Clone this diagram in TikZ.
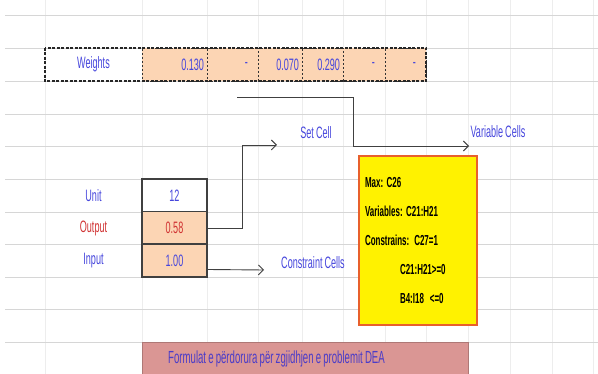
\documentclass[tikz,border=0pt]{standalone}
\usepackage{fontspec}
\setmainfont{Liberation Sans}[FakeStretch=0.55, WordSpace=0.8]
\usepackage{tikz}
\usetikzlibrary{arrows.meta,positioning}
\definecolor{peach}{HTML}{FCD5B4}
\definecolor{xlblue}{HTML}{4646DC}
\definecolor{xlred}{HTML}{D03232}
\definecolor{xlgrid}{HTML}{D6D6D6}
\definecolor{xlvgrid}{HTML}{EDEDED}
\definecolor{barrose}{HTML}{DA9694}
\definecolor{boxedge}{HTML}{E8602C}
\definecolor{linegray}{HTML}{404040}
\definecolor{bartext}{HTML}{4B3CC8}
\frenchspacing

\begin{document}
\begin{tikzpicture}[x=1pt, y=-1pt,
  >={Straight Barb[length=5pt,width=10pt]}, font=\fontsize{16.5pt}{18pt}\selectfont,
  lbl/.style={minimum width=97pt, minimum height=33pt, inner sep=0pt, text=xlblue},
  wcell/.style={draw=black!80, dash pattern=on 2pt off 2pt, fill=peach, minimum height=33pt, inner xsep=3pt, inner ysep=0pt, text width=#1, align=right, text=xlblue},
  vcell/.style={draw=linegray, line width=1.4pt, minimum width=65pt, minimum height=32.7pt, inner sep=0pt, fill=#1},
  conn/.style={draw=linegray, line width=0.9pt},
  tag/.style={text=xlblue, inner sep=1pt}]
\useasboundingbox (0,0) rectangle (598,374);
% sheet grid
\foreach \gx in {45,142,207,258,302,343,385,426,468,510,552,593}
  \draw[xlvgrid, line width=0.8pt] (\gx,0) -- (\gx,374);
\foreach \gy in {15,48,81,114,146,179,212,244,277,309,342}
  \draw[xlgrid, line width=0.8pt] (5,\gy) -- (598,\gy);
% weights row
\node[lbl] (wlab) at (93.5,64.5) {Weights};
\node[wcell=59pt] (w1) at (174.5,64.5) {0.130};
\node[wcell=45pt] (w2) at (232.5,64.5) {-\hspace*{7pt}};
\node[wcell=38pt] (w3) at (280,64.5) {0.070};
\node[wcell=35pt] (w4) at (322.5,64.5) {0.290};
\node[wcell=36pt] (w5) at (364,64.5) {-\hspace*{7pt}};
\node[wcell=35pt] (w6) at (405.5,64.5) {-\hspace*{7pt}};
\draw[black!85, line width=1.6pt, dash pattern=on 3pt off 1.5pt] (wlab.north west) rectangle (w6.south east);
% unit / output / input
\node[lbl] (unitlab) at (93.5,195.5) {Unit};
\node[lbl, text=xlred] (outlab) at (93.5,228) {Output};
\node[lbl] (inlab) at (93.5,260.5) {Input};
\node[vcell=white, text=xlblue] (unit) at (174.5,195.5) {12};
\node[vcell=peach, text=xlred] (out) at (174.5,228) {0.58};
\node[vcell=peach, text=xlblue] (inp) at (174.5,260.5) {1.00};
% solver labels
\node[tag] (setcell) at (316,133) {Set Cell};
\node[tag] (concell) at (313,263) {Constraint Cells};
\node[tag] (varcell) at (498,132) {Variable Cells};
\coordinate (setend) at (277,145);
\coordinate (conend) at (264,270);
\coordinate (varstart) at (237,97);
\coordinate (varend) at (469,146);
\draw[conn, ->] (out.east) -- ++(35,0) |- (setend);
\draw[conn, ->] ([yshift=-9pt]inp.east) -- (conend);
\draw[conn, ->] (varstart) -- ++(116,0) |- (varend);
% solver summary
\node[draw=boxedge, line width=1.4pt, fill=yellow, minimum width=118pt, minimum height=169pt, text width=106pt, align=left, inner sep=0pt, font=\fontsize{14.5pt}{28.8pt}\selectfont\bfseries] (solver) at (418,240.5)
  {Max:\hspace{3.5pt}C26\\Variables:\hspace{3.5pt}C21:H21\\Constrains:\hspace{5pt}C27=1\\\hspace*{35pt}C21:H21>=0\\\hspace*{35pt}B4:I18\hspace{6pt}<=0};
% caption bar
\node[draw=barrose!80!black, fill=barrose, minimum width=326pt, minimum height=34pt, inner sep=0pt, anchor=north west] (bar) at (142,342) {};
\node[text=bartext, anchor=west, inner sep=0pt, font=\fontsize{17.5pt}{19pt}\selectfont] (bartxt) at ([xshift=26pt]bar.west) {Formulat e përdorura për zgjidhjen e problemit DEA};
\end{tikzpicture}
\end{document}
